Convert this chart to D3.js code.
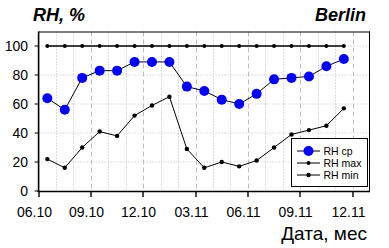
<!DOCTYPE html>
<html><head><meta charset="utf-8">
<script src="https://cdn.jsdelivr.net/npm/d3@7"></script>
<style>body{margin:0;background:#fff}svg{display:block}text{font-family:Arial,"Liberation Sans",sans-serif}</style>
</head><body><svg id="c" width="389" height="248"></svg>
<script>
const tickLabels = ["06.10","09.10","12.10","03.11","06.11","09.11","12.11"];
const rhAvg = [64,56,78,83,83,89,89,89,72,69,63,60,67,77,78,79,86,91];
const rhMax = [100,100,100,100,100,100,100,100,100,100,100,100,100,100,100,100,100,100];
const rhMin = [22,16,30,41,38,52,59,65,29,16,20,17,21,30,39,42,45,57];
const yTicks = [0,20,40,60,80,100];

const svg = d3.select("#c");
const x = d3.scaleLinear().domain([0,19]).range([38.6,370]);
const y = d3.scaleLinear().domain([0,110]).range([191,31.5]);
const L = x(0), R = x(19), T = y(110), B = y(0);

// grid
const g = svg.append("g");
g.selectAll(".hg").data(yTicks.filter(d=>d>0)).enter().append("line")
  .attr("x1",L).attr("x2",R).attr("y1",d=>y(d)).attr("y2",d=>y(d))
  .attr("stroke","#bdbdbd").attr("stroke-width",1).attr("stroke-dasharray","1,2");
g.selectAll(".vg").data(d3.range(1,19)).enter().append("line")
  .attr("x1",d=>Math.round(x(d))+0.5).attr("x2",d=>Math.round(x(d))+0.5).attr("y1",T).attr("y2",B)
  .attr("stroke","#bdbdbd").attr("stroke-width",1)
  .attr("stroke-dasharray",d=>d%3===0?"5,3":"1,2");

// frame
svg.append("line").attr("x1",L).attr("x2",R).attr("y1",T+0.5).attr("y2",T+0.5).attr("stroke","#000");
svg.append("line").attr("x1",R-0.5).attr("x2",R-0.5).attr("y1",T).attr("y2",B).attr("stroke","#000");
svg.append("line").attr("x1",L).attr("x2",L).attr("y1",T).attr("y2",B+1).attr("stroke","#000").attr("stroke-width",1.6);
svg.append("line").attr("x1",L-1).attr("x2",R).attr("y1",B+0.5).attr("y2",B+0.5).attr("stroke","#000").attr("stroke-width",1.6);

// y ticks
yTicks.forEach(v=>{
  svg.append("line").attr("x1",L-4).attr("x2",L).attr("y1",y(v)).attr("y2",y(v)).attr("stroke","#000");
  svg.append("text").attr("x",28).attr("y",y(v)).attr("dy","0.36em").attr("text-anchor","end")
    .attr("font-size",14).attr("fill","#000").text(v);
});
// x ticks
tickLabels.forEach((t,i)=>{
  const xv = Math.round(x(i*3));
  svg.append("line").attr("x1",xv).attr("x2",xv).attr("y1",B).attr("y2",B+6).attr("stroke","#000").attr("stroke-width",1.4);
  svg.append("text").attr("x",xv-4.5).attr("y",217).attr("text-anchor","middle")
    .attr("font-size",14).attr("fill","#000").text(t);
});

const px = (d,i)=>x(i+0.5);
const line = d3.line().x(px).y(d=>y(d));

// max
svg.append("path").attr("d",line(rhMax)).attr("fill","none").attr("stroke","#000").attr("stroke-width",1.3);
svg.selectAll(".mx").data(rhMax).enter().append("circle").attr("cx",px).attr("cy",d=>y(d)).attr("r",2).attr("fill","#000");
// min
svg.append("path").attr("d",line(rhMin)).attr("fill","none").attr("stroke","#000").attr("stroke-width",1);
svg.selectAll(".mn").data(rhMin).enter().append("circle").attr("cx",px).attr("cy",d=>y(d)).attr("r",2.2).attr("fill","#000");
// avg
svg.append("path").attr("d",line(rhAvg)).attr("fill","none").attr("stroke","#000").attr("stroke-width",1);
svg.selectAll(".av").data(rhAvg).enter().append("circle").attr("cx",px).attr("cy",d=>y(d)).attr("r",5).attr("fill","#0000ff");

// legend
const lg = svg.append("g");
lg.append("rect").attr("x",291.5).attr("y",138.5).attr("width",76).attr("height",48).attr("fill","#fff").attr("stroke","#000");
const items = [["RH cp",5,"#0000ff",151],["RH max",2,"#000",163],["RH min",2.2,"#000",175]];
items.forEach(([name,r,c,yy])=>{
  lg.append("line").attr("x1",297).attr("x2",320).attr("y1",yy).attr("y2",yy).attr("stroke","#000");
  lg.append("circle").attr("cx",308.5).attr("cy",yy).attr("r",r).attr("fill",c);
  lg.append("text").attr("x",323.5).attr("y",yy).attr("dy","0.36em").attr("font-size",10.5).attr("fill","#000").text(name);
});

// titles
svg.append("text").attr("x",33).attr("y",20.5).attr("font-size",18).attr("font-weight","bold").attr("font-style","italic").text("RH, %");
svg.append("text").attr("x",366).attr("y",20.5).attr("text-anchor","end").attr("font-size",18).attr("font-weight","bold").attr("font-style","italic").text("Berlin");
svg.append("text").attr("x",367).attr("y",240).attr("text-anchor","end").attr("font-size",19).text("Дата, мес");
</script></body></html>
